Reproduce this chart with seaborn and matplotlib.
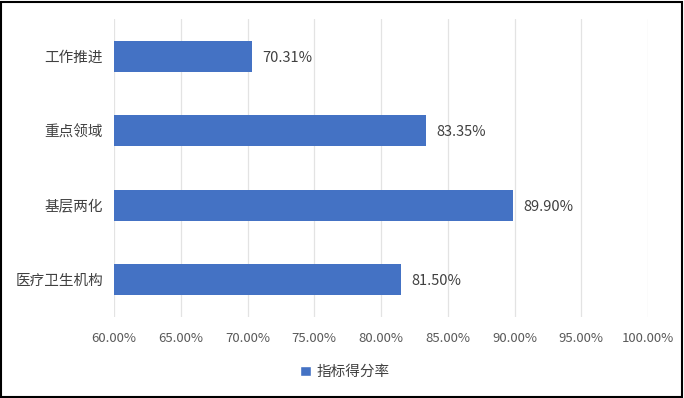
import matplotlib
matplotlib.use("Agg")
import matplotlib.pyplot as plt
import seaborn as sns
import pandas as pd
from matplotlib.patches import Rectangle, Patch
from matplotlib.ticker import FuncFormatter, MultipleLocator

categories = ["工作推进", "重点领域", "基层两化", "医疗卫生机构"]
values = [70.31, 83.35, 89.90, 81.50]
series_name = "指标得分率"

sns.set_theme(style="white")
plt.rcParams['font.family'] = ['Noto Sans CJK SC', 'DejaVu Sans']

df = pd.DataFrame({"cat": categories, "val": values})

fig = plt.figure(figsize=(6.84, 3.98), dpi=100)
ax = fig.add_axes([114/684, 1-317/398, (648-114)/684, (317-19)/398])

bar_color = "#4472C4"
sns.barplot(data=df, y="cat", x="val", orient="h", color=bar_color,
            width=0.41, saturation=1, linewidth=0, ax=ax)

ax.set_xlim(60, 100)
ax.xaxis.set_major_locator(MultipleLocator(5))
ax.xaxis.set_major_formatter(FuncFormatter(lambda v, p: f"{v:.2f}%"))
ax.grid(axis="x", color="#E3E3E3", linewidth=0.9)
ax.set_axisbelow(True)
for s in ax.spines.values():
    s.set_visible(False)
ax.set_xlabel("")
ax.set_ylabel("")
ax.tick_params(axis="x", length=0, pad=11, labelsize=9.5, labelcolor="#595959")
ax.tick_params(axis="y", length=0, pad=8, labelsize=10.5, labelcolor="#404040")

for i, v in enumerate(values):
    ax.text(v + 0.8, i + 0.02, f"{v:.2f}%", va="center", ha="left",
            fontsize=10.5, color="#404040")

leg = fig.legend(handles=[Patch(facecolor=bar_color, label=series_name)],
                 loc="center", bbox_to_anchor=(345/684, 1-372/398),
                 frameon=False, fontsize=10.5, handlelength=0.7,
                 handleheight=0.7, handletextpad=0.4)
for t in leg.get_texts():
    t.set_color("#404040")

fig.patches.append(Rectangle((0.002, 0.003), 0.995, 0.993, transform=fig.transFigure,
                             fill=False, edgecolor="black", linewidth=1.5))

fig.savefig("out.png", dpi=100)
